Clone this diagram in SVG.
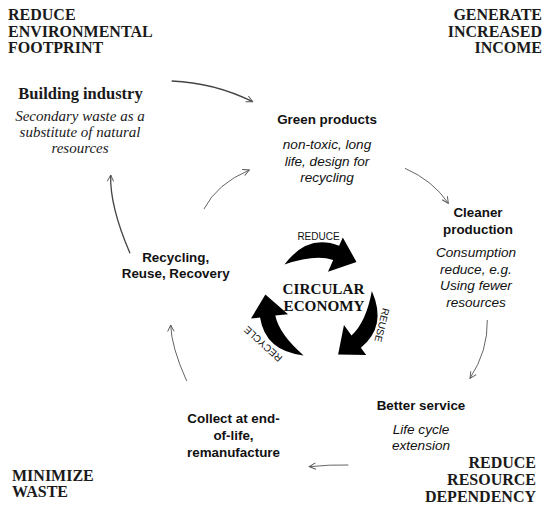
<svg xmlns="http://www.w3.org/2000/svg" xmlns:xlink="http://www.w3.org/1999/xlink" width="550" height="512" viewBox="0 0 550 512">
<style>
.goal{font-family:"Liberation Serif","Times New Roman",serif;font-weight:bold;font-size:16px;fill:#1a1a1a}
.sh{font-family:"Liberation Serif","Times New Roman",serif;font-weight:bold;font-size:16.5px;fill:#1a1a1a}
.si{font-family:"Liberation Serif","Times New Roman",serif;font-style:italic;font-size:15px;fill:#1a1a1a}
.h{font-family:"Liberation Sans",Arial,sans-serif;font-weight:bold;font-size:13.4px;fill:#111}
.i{font-family:"Liberation Sans",Arial,sans-serif;font-style:italic;font-size:13.6px;fill:#111}
.ce{font-family:"Liberation Serif","Times New Roman",serif;font-weight:bold;font-size:15.2px;fill:#111}
.sm{font-family:"Liberation Sans",Arial,sans-serif;font-size:10px;fill:#111}
.c{text-anchor:middle}
.r{text-anchor:end}
.con{fill:none;stroke:#666;stroke-width:1}
.dk{stroke:#444;stroke-width:1.3}
</style>
<defs>
<marker id="ah" viewBox="0 0 10 10" refX="9" refY="5" markerWidth="8" markerHeight="8" markerUnits="userSpaceOnUse" orient="auto">
<path d="M1,1 L9,5 L1,9" fill="none" stroke="#555" stroke-width="1.2"/>
</marker>
<path id="arr" d="M-35.5,-39.4 Q-12.6,-70.5 19.1,-58.2 L22.8,-66.5 L36.5,-42 L8,-32.3 L13.2,-44 Q-5.25,-50 -35.5,-39.4 Z" fill="#000"/>
</defs>

<g id="goals">
<text class="goal" x="8" y="20">REDUCE</text>
<text class="goal" x="8" y="37">ENVIRONMENTAL</text>
<text class="goal" x="8" y="53">FOOTPRINT</text>
<text class="goal r" x="542" y="20">GENERATE</text>
<text class="goal r" x="542" y="37">INCREASED</text>
<text class="goal r" x="542" y="53">INCOME</text>
<text class="goal" x="12" y="481">MINIMIZE</text>
<text class="goal" x="12" y="497">WASTE</text>
<text class="goal r" x="536" y="468">REDUCE</text>
<text class="goal r" x="536" y="485">RESOURCE</text>
<text class="goal r" x="536" y="502">DEPENDENCY</text>
</g>

<g id="building">
<text class="sh c" x="80.5" y="99">Building industry</text>
<text class="si c" x="80" y="121">Secondary waste as a</text>
<text class="si c" x="80" y="137">substitute of natural</text>
<text class="si c" x="80" y="153">resources</text>
</g>

<g id="green">
<text class="h c" x="327" y="124">Green products</text>
<text class="i c" x="327" y="148.5">non-toxic, long</text>
<text class="i c" x="327" y="165.5">life, design for</text>
<text class="i c" x="327" y="182">recycling</text>
</g>

<g id="cleaner">
<text class="h c" x="478" y="216.5">Cleaner</text>
<text class="h c" x="478" y="233.5">production</text>
<text class="i c" x="476" y="257">Consumption</text>
<text class="i c" x="476" y="273.5">reduce, e.g.</text>
<text class="i c" x="476" y="290">Using fewer</text>
<text class="i c" x="476" y="306.5">resources</text>
</g>

<g id="better">
<text class="h c" x="421" y="409.5">Better service</text>
<text class="i c" x="421" y="434">Life cycle</text>
<text class="i c" x="421" y="450">extension</text>
</g>

<g id="collect">
<text class="h c" x="233.5" y="422.5">Collect at end-</text>
<text class="h c" x="233.5" y="439.5">of-life,</text>
<text class="h c" x="233.5" y="456.5">remanufacture</text>
</g>

<g id="recycling">
<text class="h c" x="175.7" y="261.7">Recycling,</text>
<text class="h c" x="175.7" y="278.3">Reuse, Recovery</text>
</g>

<g id="circular">
<use xlink:href="#arr" href="#arr" transform="translate(320,304)"/>
<use xlink:href="#arr" href="#arr" transform="translate(320,302) rotate(120)"/>
<use xlink:href="#arr" href="#arr" transform="translate(320,305) rotate(240)"/>
<text class="ce c" x="323.5" y="293.5">CIRCULAR</text>
<text class="ce c" x="324" y="311">ECONOMY</text>
<text class="sm c" x="318.5" y="240">REDUCE</text>
<text class="sm c" transform="translate(382,325) rotate(104)" y="3.5">REUSE</text>
<text class="sm c" transform="translate(263,344) rotate(222)" y="3.5">RECYCLE</text>
</g>

<g id="connectors">
<path class="con dk" d="M171.7,81 Q213.8,82.6 252.7,101.7" marker-end="url(#ah)"/>
<path class="con" d="M204,209 Q216.8,183.9 249.3,170" marker-end="url(#ah)"/>
<path class="con" d="M405,168.3 Q433.3,180.8 448.3,203.3" marker-end="url(#ah)"/>
<path class="con" d="M487.3,320 Q488,350.8 470,378.3" marker-end="url(#ah)"/>
<path class="con" d="M348.3,465 Q330,464.5 309.3,466.7" marker-end="url(#ah)"/>
<path class="con" d="M186.7,381 Q171.3,347 170.7,325" marker-end="url(#ah)"/>
<path class="con dk" d="M130,253.3 Q109.6,205.8 110.7,175" marker-end="url(#ah)"/>
</g>
</svg>
